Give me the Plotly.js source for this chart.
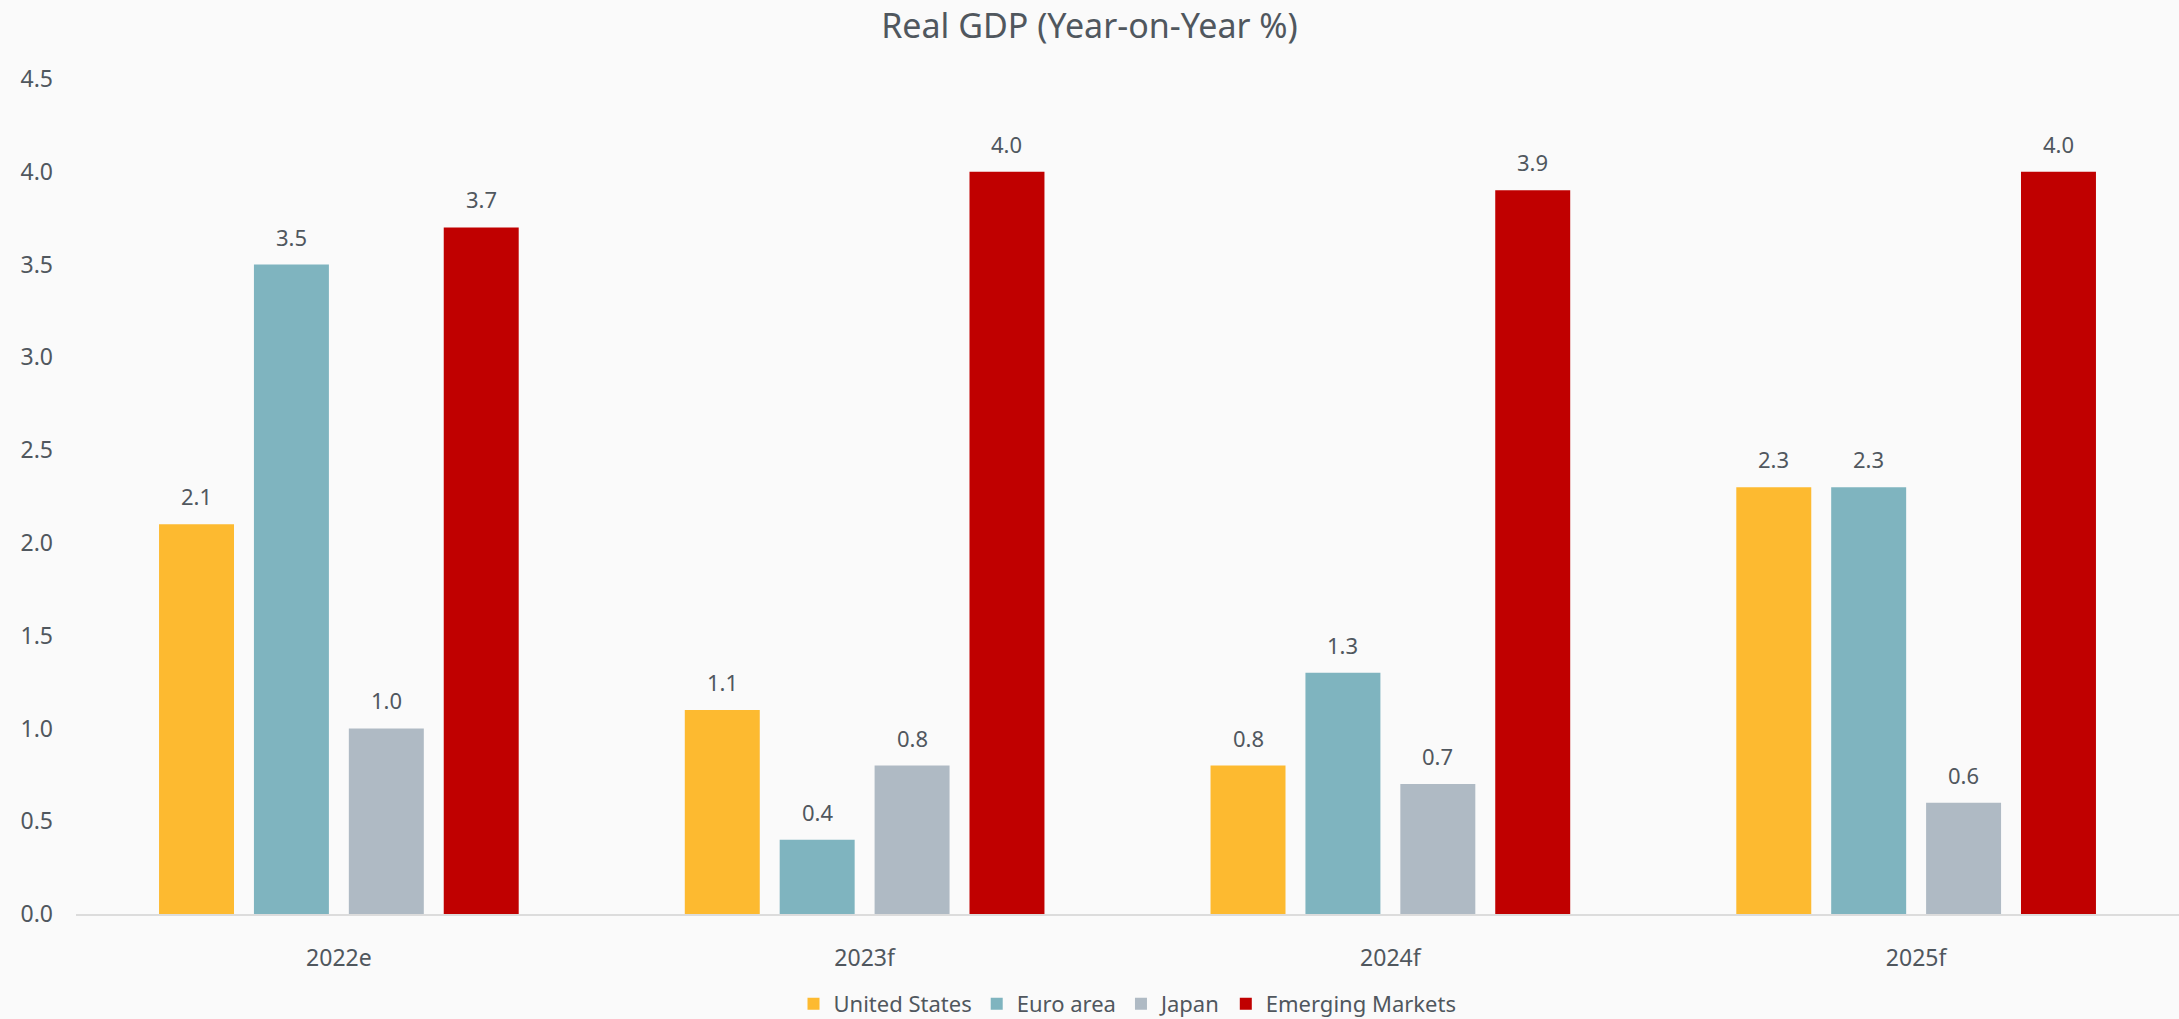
<!DOCTYPE html>
<html>
<head>
<meta charset="utf-8">
<script src="https://cdn.plot.ly/plotly-3.0.1.min.js"></script>
<style>html,body{margin:0;padding:0;background:#fafafa;}#chart{width:2179px;height:1019px;}</style>
</head>
<body>
<div id="chart"></div>
<script>
const categories = ["2022e", "2023f", "2024f", "2025f"];
const unitedStates = [2.1, 1.1, 0.8, 2.3];
const euroArea = [3.5, 0.4, 1.3, 2.3];
const japan = [1.0, 0.8, 0.7, 0.6];
const emergingMarkets = [3.7, 4.0, 3.9, 4.0];
const seriesNames = ["United States", "Euro area", "Japan", "Emerging Markets"];
const seriesColors = ["#FDBA30", "#7FB4BF", "#AFBAC4", "#C00000"];
const yTicks = [0, 0.5, 1, 1.5, 2, 2.5, 3, 3.5, 4, 4.5];

const FONT = '"Segoe UI", "Noto Sans", "Open Sans", sans-serif';
const TXT = '#50575e';
const seriesValues = [unitedStates, euroArea, japan, emergingMarkets];
const BARGAP = 0.278;
const nSeries = seriesValues.length;

const traces = seriesValues.map((vals, i) => ({
  type: 'bar',
  name: seriesNames[i],
  x: categories,
  y: vals,
  marker: {color: seriesColors[i], line: {width: 0}},
  hoverinfo: 'x+y'
}));

// value labels placed over each bar (category index + group slot offset)
const slot = (1 - BARGAP) / nSeries;
const annotations = [];
seriesValues.forEach((vals, i) => {
  vals.forEach((v, j) => {
    annotations.push({
      xref: 'x', yref: 'y',
      x: j + (i - (nSeries - 1) / 2) * slot,
      y: v,
      text: v.toFixed(1),
      showarrow: false,
      yanchor: 'middle',
      yshift: 28,
      font: {family: FONT, size: 22, color: TXT}
    });
  });
});

const layout = {
  width: 2179,
  height: 1019,
  paper_bgcolor: '#fafafa',
  plot_bgcolor: '#fafafa',
  font: {family: FONT, color: TXT, size: 22},
  title: {text: 'Real GDP (Year-on-Year %)', font: {family: FONT, size: 34, color: TXT},
          x: 0.5, xanchor: 'center', y: 1 - 26/1019, yref: 'container', yanchor: 'middle'},
  margin: {l: 76, r: 0, t: 79, b: 105, autoexpand: false},
  barmode: 'group',
  bargap: BARGAP,
  bargroupgap: 0.21,
  showlegend: true,
  legend: {orientation: 'h', x: 0.5, xanchor: 'center', yref: 'container', y: 1 - 1004/1019, yanchor: 'middle',
           font: {family: FONT, size: 22, color: TXT}, traceorder: 'normal'},
  annotations: annotations,
  xaxis: {
    type: 'category',
    range: [-0.5, 3.5],
    showgrid: false,
    showline: true,
    linecolor: '#dcdcdc',
    linewidth: 2,
    ticks: '',
    ticklabelstandoff: 22,
    tickfont: {family: FONT, size: 23, color: TXT},
    zeroline: false,
    automargin: false
  },
  yaxis: {
    range: [0, 4.5],
    tickvals: yTicks,
    ticktext: yTicks.map(v => v.toFixed(1)),
    showgrid: false,
    zeroline: false,
    showline: false,
    ticks: '',
    ticklabelstandoff: 22,
    tickfont: {family: FONT, size: 23, color: TXT},
    automargin: false
  }
};

Plotly.newPlot('chart', traces, layout, {displayModeBar: false, responsive: false});
</script>
</body>
</html>
